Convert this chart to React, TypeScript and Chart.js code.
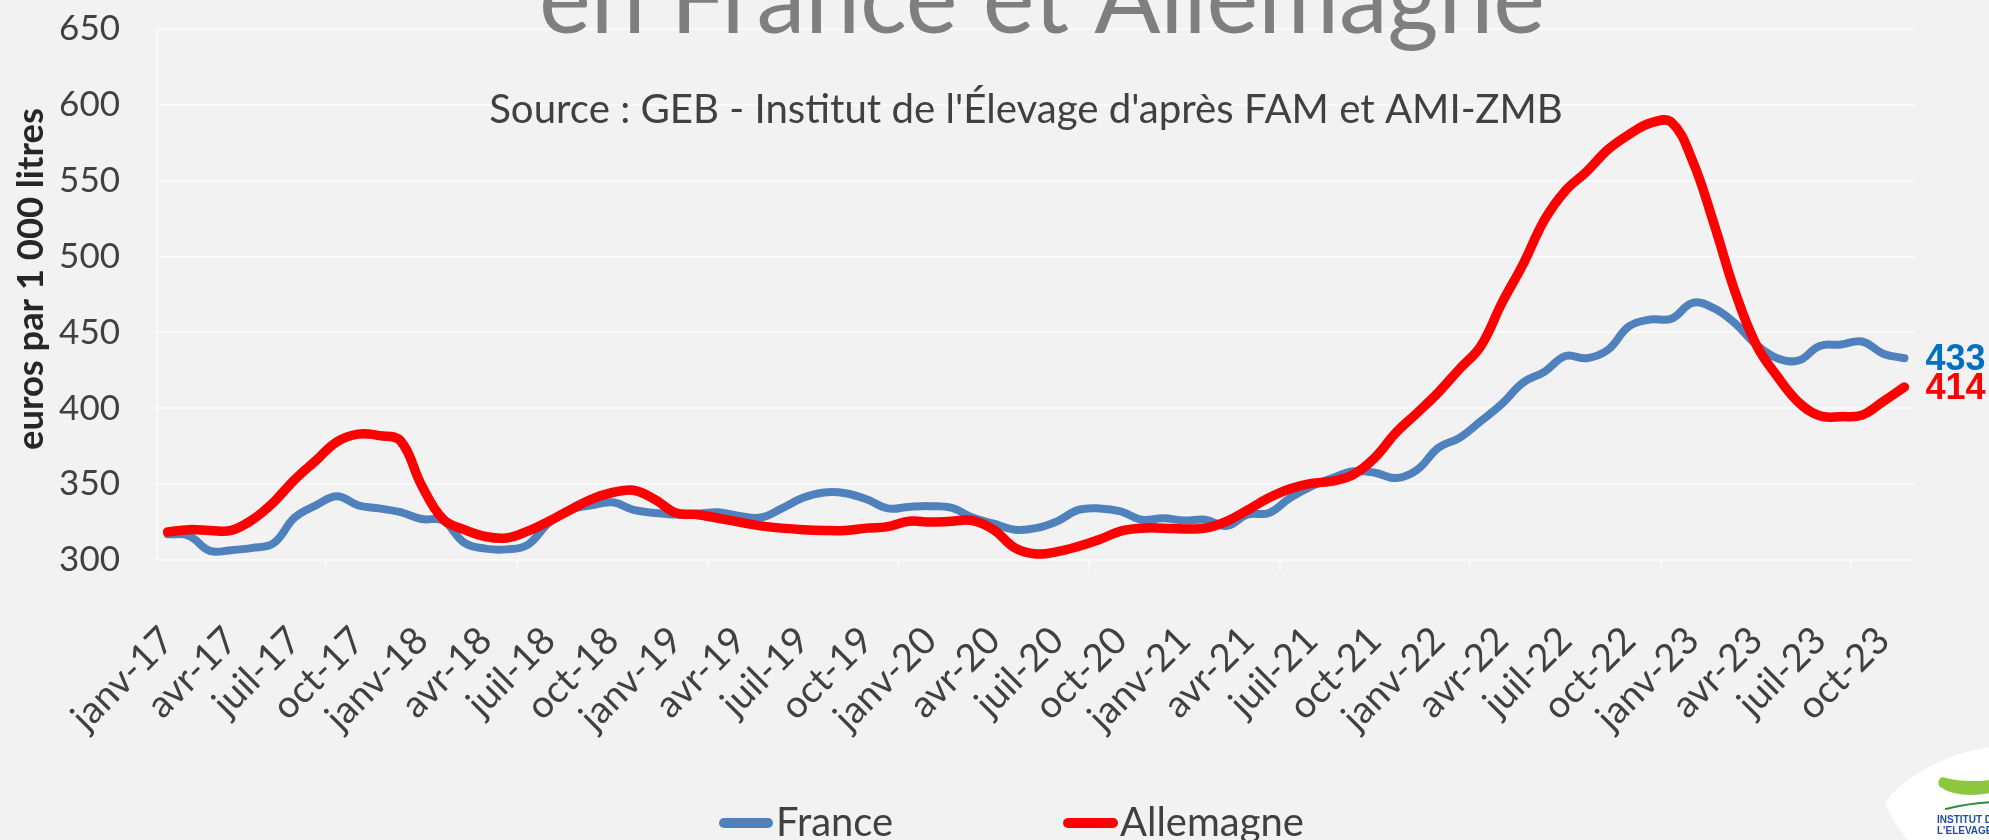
import React, { useEffect, useRef } from "react";
import { Chart, registerables } from "chart.js";

Chart.register(...registerables);

// ---------- data ----------
const MONTH_NAMES = ["janv", "févr", "mars", "avr", "mai", "juin", "juil", "août", "sept", "oct", "nov", "déc"];
const YEARS = ["17", "18", "19", "20", "21", "22", "23"];
const N_MONTHS = 83; // janv-17 .. nov-23
const CATEGORIES: string[] = [];
for (const y of YEARS) for (const m of MONTH_NAMES) CATEGORIES.push(`${m}-${y}`);
CATEGORIES.length = N_MONTHS;

const FRANCE = [
  317, 316, 306, 306.5, 308, 311, 328, 336, 342, 336, 334, 331.5,
  327, 326, 311.5, 307.5, 307, 310, 324.5, 333, 336, 338, 333, 331,
  330, 330.5, 331.5, 329, 328, 334, 341, 344.5, 344, 340, 334, 335,
  335.5, 334.5, 328, 324, 320, 321, 325.5, 333, 334, 332, 326.5, 327.5,
  326, 326.5, 322.5, 330, 331, 341, 348.5, 354, 358.5, 357.5, 354, 359.5,
  374, 380.5, 391.5, 403, 417, 424, 434.5, 433, 438.5, 454, 458.5, 459,
  469.5, 466, 456, 442, 433, 431.5, 441, 442, 444, 436, 433,
];

const ALLEMAGNE = [
  318.5, 320, 319.5, 319.5, 326.5, 338, 353, 365.5, 378, 383, 382, 378.5,
  349, 327, 320, 315.5, 314.5, 319, 325.5, 333, 340, 344.5, 346, 340,
  331, 330, 327.5, 325, 322.5, 321, 320, 319.5, 319.5, 321, 322, 325.5,
  325, 325.5, 326, 320, 308, 304, 305.5, 309, 313.5, 319, 321, 321,
  320.5, 321, 325.5, 333, 341, 347, 350.5, 352, 356.5, 367.5, 384, 397,
  410.5, 426, 441, 469.5, 495, 524, 543.5, 556, 570.5, 580.5, 588, 588.5,
  563, 522, 477, 442, 421, 404, 395, 394.5, 395.5, 404.5, 414,
];

const Y_MIN = 300;
const Y_MAX = 650;
const Y_STEP = 50;

const TITLE = "en France et Allemagne";
const SUBTITLE = "Source : GEB - Institut de l'Élevage d'après FAM et AMI-ZMB";
const Y_TITLE = "euros par 1 000 litres";
const SERIES_NAMES = ["France", "Allemagne"];

// ---------- styles ----------
const BG = "#F2F2F2";
const GRID = "#FAFAFA";
const TXT = "#404040";
const BLUE = "#4F81BD";
const RED = "#FF0000";
const LABEL_BLUE = "#0070C0";
const FONT = "Lato, 'Noto Sans', sans-serif";
const W = "normal";
const BOLD_FONT = "'Liberation Sans', Arial, sans-serif";
const TRANSPARENT = "rgba(0,0,0,0)";

function fitSize(ctx: CanvasRenderingContext2D, text: string, weight: string, family: string, target: number) {
  ctx.font = `${weight} 100px ${family}`;
  const w = ctx.measureText(text).width;
  return (100 * target) / w;
}

const decorPlugin = {
  id: "decor",
  afterDatasetsDraw(chart: any) {
    const ctx: CanvasRenderingContext2D = chart.ctx;
    ctx.save();
    const colors = [LABEL_BLUE, RED];
    chart.data.datasets.forEach((ds: any, di: number) => {
      const meta = chart.getDatasetMeta(di);
      const last = meta.data[meta.data.length - 1];
      const v = ds.data[ds.data.length - 1];
      ctx.font = `bold 36px ${BOLD_FONT}`;
      ctx.fillStyle = colors[di];
      ctx.textAlign = "left";
      ctx.textBaseline = "middle";
      ctx.fillText(String(Math.round(v)), last.x + 21, last.y + 2);
    });
    ctx.restore();
  },
  afterDraw(chart: any) {
    const ctx: CanvasRenderingContext2D = chart.ctx;
    ctx.save();

    // title (only its lower part is in frame)
    let s = fitSize(ctx, TITLE, W, FONT, 1006);
    ctx.font = `${W} ${s}px ${FONT}`;
    ctx.fillStyle = "#7F7F7F";
    ctx.textAlign = "center";
    ctx.textBaseline = "alphabetic";
    ctx.fillText(TITLE, 1042, 33);

    // subtitle
    s = fitSize(ctx, SUBTITLE, W, FONT, 1074);
    ctx.font = `${W} ${s}px ${FONT}`;
    ctx.fillStyle = TXT;
    ctx.fillText(SUBTITLE, 1026, 123);

    // y-axis title
    s = fitSize(ctx, Y_TITLE, "bold", FONT, 342);
    ctx.save();
    ctx.translate(31, 279);
    ctx.rotate(-Math.PI / 2);
    ctx.font = `bold ${s}px ${FONT}`;
    ctx.fillStyle = "#262626";
    ctx.textAlign = "center";
    ctx.textBaseline = "middle";
    ctx.fillText(Y_TITLE, 0, 0);
    ctx.restore();

    // legend
    const ls = fitSize(ctx, SERIES_NAMES[1], W, FONT, 184);
    const items = [
      { name: SERIES_NAMES[0], color: BLUE, x0: 724, x1: 768, tx: 776 },
      { name: SERIES_NAMES[1], color: RED, x0: 1068, x1: 1113, tx: 1120 },
    ];
    for (const it of items) {
      ctx.beginPath();
      ctx.strokeStyle = it.color;
      ctx.lineWidth = 10;
      ctx.lineCap = "round";
      ctx.moveTo(it.x0, 823);
      ctx.lineTo(it.x1, 823);
      ctx.stroke();
      ctx.font = `${W} ${ls}px ${FONT}`;
      ctx.fillStyle = TXT;
      ctx.textAlign = "left";
      ctx.textBaseline = "alphabetic";
      ctx.fillText(it.name, it.tx, 836);
    }

    // logo (bottom-right, partly out of frame)
    ctx.beginPath();
    ctx.moveTo(1885, 802);
    ctx.quadraticCurveTo(1920, 758, 1995, 746);
    ctx.lineTo(1995, 845);
    ctx.lineTo(1912, 845);
    ctx.quadraticCurveTo(1892, 822, 1885, 802);
    ctx.closePath();
    ctx.fillStyle = "#FFFFFF";
    ctx.fill();

    ctx.beginPath();
    ctx.moveTo(1942, 777);
    ctx.quadraticCurveTo(1966, 784, 1995, 779);
    ctx.lineTo(1995, 792);
    ctx.quadraticCurveTo(1960, 800, 1940, 787);
    ctx.quadraticCurveTo(1936, 781, 1942, 777);
    ctx.closePath();
    ctx.fillStyle = "#8DC63F";
    ctx.fill();

    ctx.beginPath();
    ctx.moveTo(1946, 809);
    ctx.quadraticCurveTo(1970, 803, 1995, 802);
    ctx.strokeStyle = "#2E8B3A";
    ctx.lineWidth = 2;
    ctx.lineCap = "round";
    ctx.stroke();

    ctx.font = `bold 10px ${BOLD_FONT}`;
    ctx.fillStyle = "#1F4E9C";
    ctx.textAlign = "left";
    ctx.textBaseline = "alphabetic";
    ctx.fillText("INSTITUT DE", 1937, 823);
    ctx.fillText("L'ELEVAGE", 1937, 834);

    ctx.restore();
  },
};

export default function App() {
  const ref = useRef<HTMLCanvasElement>(null);

  useEffect(() => {
    document.body.style.margin = "0";
    document.body.style.background = BG;
    const canvas = ref.current;
    if (!canvas) return;

    const tickVisible = (c: any) => c.index !== undefined && c.index % 3 === 0 && c.index < N_MONTHS;

    const chart = new Chart(canvas, {
      type: "line",
      data: {
        labels: CATEGORIES,
        datasets: [
          {
            label: SERIES_NAMES[0],
            data: FRANCE,
            borderColor: BLUE,
            backgroundColor: BLUE,
            borderWidth: 8,
            pointRadius: 0,
            tension: 0.4,
            borderCapStyle: "round",
            borderJoinStyle: "round",
            order: 1,
          },
          {
            label: SERIES_NAMES[1],
            data: ALLEMAGNE,
            borderColor: RED,
            backgroundColor: RED,
            borderWidth: 9.5,
            pointRadius: 0,
            tension: 0.4,
            borderCapStyle: "round",
            borderJoinStyle: "round",
            order: 0,
          },
        ],
      },
      options: {
        responsive: false,
        animation: false,
        devicePixelRatio: 1,
        layout: { padding: { top: 29, right: 74, left: 0, bottom: 0 } },
        plugins: {
          legend: { display: false },
          tooltip: { enabled: false },
          title: { display: false },
        },
        scales: {
          x: {
            type: "category",
            offset: true,
            grid: {
              offset: true,
              drawOnChartArea: false,
              drawTicks: true,
              tickLength: 10,
              tickWidth: 2,
              lineWidth: 2,
              color: (c: any) => (tickVisible(c) ? GRID : TRANSPARENT),
              tickColor: (c: any) => (tickVisible(c) ? GRID : TRANSPARENT),
            },
            border: { display: true, color: GRID, width: 2 },
            ticks: {
              autoSkip: false,
              maxRotation: 45,
              minRotation: 45,
              padding: 48,
              color: TXT,
              font: { family: FONT, size: 38, weight: W },
              callback: (_v: any, i: number) => (i % 3 === 0 ? CATEGORIES[i] : null),
            },
            afterFit: (sc: any) => {
              sc.height = 280;
            },
          },
          y: {
            min: Y_MIN,
            max: Y_MAX,
            ticks: {
              stepSize: Y_STEP,
              padding: 0,
              color: TXT,
              font: { family: FONT, size: 35, weight: W },
            },
            grid: { color: GRID, lineWidth: 2, drawTicks: true, tickLength: 37, tickColor: TRANSPARENT },
            border: { display: true, color: GRID, width: 2 },
            afterFit: (sc: any) => {
              sc.width = 157;
            },
          },
        },
      },
      plugins: [decorPlugin],
    } as any);

    return () => chart.destroy();
  }, []);

  return (
    <div style={{ position: "absolute", left: 0, top: 0, width: 1989, height: 840, background: BG, overflow: "hidden" }}>
      <canvas ref={ref} width={1989} height={840} style={{ display: "block", width: 1989, height: 840 }} />
    </div>
  );
}
